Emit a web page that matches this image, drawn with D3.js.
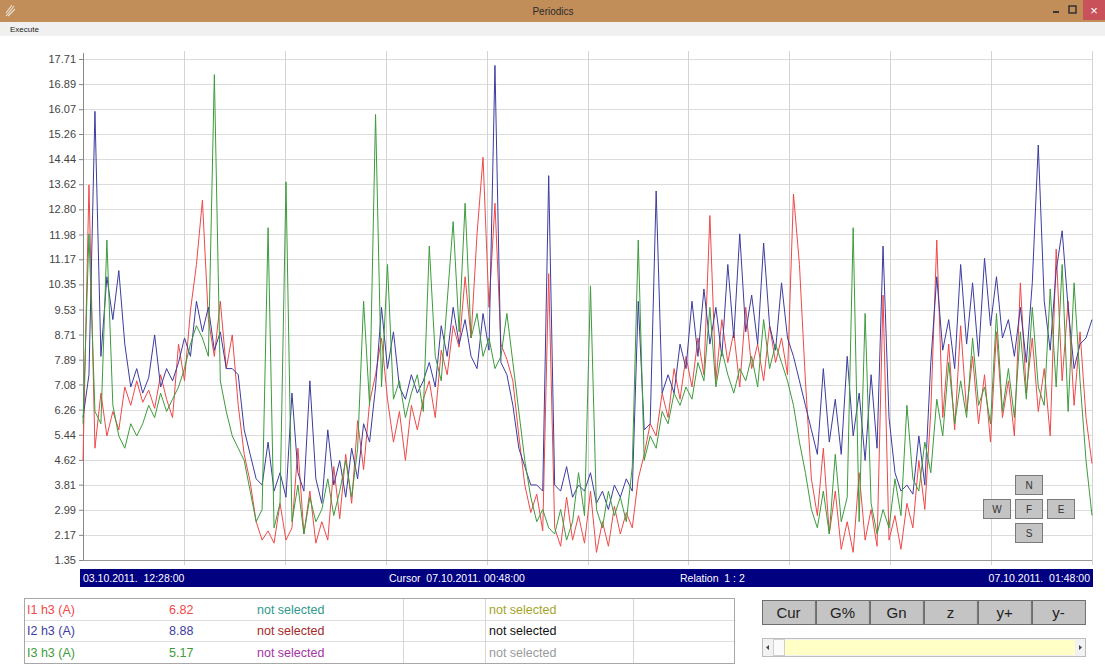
<!DOCTYPE html>
<html>
<head>
<meta charset="utf-8">
<script src="https://cdn.jsdelivr.net/npm/d3@7"></script>
<style>
body{margin:0;background:#fff;font-family:"Liberation Sans",Arial,sans-serif;}
svg text{font-family:"Liberation Sans",Arial,sans-serif;}
</style>
</head>
<body>
<svg id="graph1"></svg>
<script>
// y tick labels as shown on the left axis
var yTicks = [17.71,16.89,16.07,15.26,14.44,13.62,12.80,11.98,11.17,10.35,9.53,8.71,7.89,7.08,6.26,5.44,4.62,3.81,2.99,2.17,1.35];

// I1 h3 (A) - red
var i1 = [4.6,13.6,5.0,6.8,5.4,6.2,5.6,7.0,6.4,7.2,6.5,6.9,6.3,7.4,6.6,6.0,8.4,7.2,9.5,11.0,
13.1,9.2,8.0,9.8,7.6,8.7,6.4,4.8,3.9,2.6,2.0,2.3,1.9,3.2,2.0,2.4,5.0,2.2,3.6,1.9,
2.6,2.0,4.4,2.7,4.8,3.2,5.9,4.3,6.5,7.4,8.6,6.6,5.2,6.2,4.6,6.4,5.6,6.6,7.2,6.0,
8.2,7.4,9.0,8.3,10.6,8.6,12.0,14.5,9.6,13.0,8.4,7.9,7.2,5.4,3.8,2.9,3.5,2.3,10.7,2.4,
1.8,3.4,2.0,2.8,1.9,3.6,1.6,2.6,1.8,3.1,2.2,2.9,2.4,4.0,4.8,5.8,5.4,6.8,6.0,7.6,
6.6,8.0,7.0,8.6,7.4,12.6,7.2,9.2,7.8,8.8,7.0,9.6,7.6,8.4,7.2,9.0,7.8,8.6,7.4,13.3,
11.0,7.2,4.0,2.8,5.0,2.2,3.6,1.7,2.6,1.6,4.2,2.0,3.0,1.8,10.0,2.0,2.8,1.7,3.2,2.4,
4.6,3.0,6.2,11.8,6.0,8.4,5.6,9.0,6.2,8.0,5.8,7.4,5.2,8.8,6.0,7.2,5.4,10.4,6.8,8.6,
6.2,7.6,5.4,11.5,7.2,9.8,6.4,8.8,6.0,4.5];

// I2 h3 (A) - blue
var i2 = [6.0,7.4,16.0,8.0,10.6,9.2,10.8,8.4,7.0,7.6,6.8,7.3,8.7,7.0,7.6,7.2,7.8,8.6,8.0,9.8,
8.8,9.6,8.2,8.8,7.6,7.6,7.4,5.6,4.8,4.0,3.8,5.2,3.6,4.2,3.4,6.8,4.2,3.6,7.2,4.0,
3.2,5.6,3.8,4.6,3.4,5.0,4.0,5.8,5.2,7.0,9.6,7.6,8.8,7.0,6.6,7.4,6.8,7.2,7.8,7.0,
9.0,8.0,9.6,8.4,9.2,8.0,7.6,9.4,8.2,17.5,7.8,7.4,6.4,5.0,4.4,3.8,3.8,3.6,13.9,3.8,
3.6,4.4,3.4,3.8,3.6,4.2,3.2,3.6,3.0,3.8,3.4,4.0,3.6,9.8,5.6,5.8,13.4,6.8,7.4,6.8,
8.4,7.6,9.8,8.0,10.2,8.4,9.6,8.0,11.0,8.6,12.0,8.8,10.0,8.4,11.7,9.0,8.2,10.4,8.6,8.0,
7.2,6.4,5.6,4.8,7.6,5.2,6.6,4.8,8.0,5.4,6.8,4.6,7.4,5.0,11.6,6.0,4.2,3.6,3.8,3.5,
5.4,3.8,7.8,10.6,8.2,9.2,7.6,11.0,8.4,10.4,8.0,11.2,9.0,10.6,8.6,9.2,8.0,9.6,7.8,10.4,
14.9,9.8,8.2,10.8,12.1,9.6,7.6,8.4,8.6,9.2];

// I3 h3 (A) - green
var i3 = [5.8,12.0,6.2,5.8,11.8,6.4,5.4,5.0,5.8,5.4,5.8,6.4,6.0,6.8,6.2,6.6,7.0,7.6,8.4,9.0,
8.6,8.0,17.2,7.2,6.2,5.4,5.0,4.6,3.6,2.6,3.0,12.2,2.4,3.2,13.7,2.6,3.8,2.2,3.4,2.6,
3.0,4.0,2.8,3.6,4.6,3.4,5.0,9.8,6.4,15.9,7.0,11.0,6.6,7.2,6.0,6.8,7.4,6.2,11.6,8.0,
7.2,9.8,12.4,8.8,13.0,8.6,9.4,8.0,8.6,7.6,8.0,9.4,7.8,6.2,4.6,3.4,2.6,3.0,2.4,2.2,
3.0,2.0,2.6,4.2,2.8,10.3,3.0,2.4,3.6,2.8,3.4,2.6,4.4,11.8,4.6,5.4,5.0,6.2,5.8,6.8,
6.4,7.0,6.6,7.8,7.2,9.6,7.0,8.2,7.4,6.8,7.6,7.2,8.0,7.0,9.2,7.6,8.4,7.8,7.2,6.4,
5.2,4.2,3.0,2.4,3.6,2.2,4.8,2.6,3.4,12.2,2.6,9.4,3.2,2.2,3.0,2.4,4.0,2.8,6.4,4.0,
3.6,5.2,4.2,6.6,5.4,7.8,5.8,7.2,6.0,8.6,6.4,7.0,5.8,9.4,6.2,7.6,6.0,8.8,6.6,9.6,
7.0,6.4,10.2,7.0,11.0,6.2,10.4,7.2,4.6,2.8];

var seriesNames = ["I1 h3 (A)","I2 h3 (A)","I3 h3 (A)"];
var seriesColors = ["#f04848","#3c3ca0","#3c9c3c"];
var cursorValues = ["6.82","8.88","5.17"];
var col3Text = ["not selected","not selected","not selected"];
var col3Colors = ["#2f9a8c","#a62828","#a434a4"];
var col5Text = ["not selected","not selected","not selected"];
var col5Colors = ["#a4a428","#111111","#9a9a9a"];
var buttonLabels = ["Cur","G%","Gn","z","y+","y-"];
var barLabels = {start:"03.10.2011.  12:28:00",cursor:"Cursor  07.10.2011. 00:48:00",relation:"Relation  1 : 2",end:"07.10.2011.  01:48:00"};

var drawWindow = function(svg)
{
    // title bar
    svg.append("rect").attr("x",0).attr("y",0).attr("width",1105).attr("height",22).attr("fill","#c18e5a")
    svg.append("rect").attr("x",1083).attr("y",0).attr("width",22).attr("height",20).attr("fill","#c9525a")
    svg.append("text").text("Periodics").attr("x",553).attr("y",15)
        .attr("text-anchor","middle").attr("font-size",10).attr("fill","#2a2a2a")
    svg.append("text").text("\u00d7").attr("x",1094).attr("y",15)
        .attr("text-anchor","middle").attr("font-size",13).attr("fill","#fff")
    svg.append("rect").attr("x",1053).attr("y",11).attr("width",6).attr("height",2).attr("fill","#333")
    svg.append("rect").attr("x",1069).attr("y",6).attr("width",7).attr("height",7)
        .attr("fill","none").attr("stroke","#333").attr("stroke-width",1.5)
    // tiny icon in the corner
    svg.append("path").attr("d","M6,16 L14,6 M8,16 L15,9 M6,13 L12,5")
        .attr("stroke","#e8e0d0").attr("stroke-width",1.2).attr("fill","none")

    // menu bar
    svg.append("rect").attr("x",0).attr("y",22).attr("width",1105).attr("height",14).attr("fill","#f0f0f0")
    svg.append("text").text("Execute").attr("x",10).attr("y",32).attr("font-size",8).attr("fill","#222")
}

var firstgraph = function(target)
{
    var screen = {width:1105, height:664};
    var margins = {top:59, left:83};
    var graph = {width:1009, height:501};

    var svg = d3.select(target)
        .attr("width",screen.width)
        .attr("height",screen.height)

    drawWindow(svg)

    var xScale = d3.scaleLinear()
        .domain([0,i1.length-1])
        .range([0,graph.width])

    var yScale = d3.scaleLinear()
        .domain([1.35,17.71])
        .range([graph.height,0])

    var g = svg.append("g")
        .classed("graph",true)
        .attr("transform","translate("+margins.left+","+margins.top+")")

    // horizontal grid
    g.append("g").selectAll("line")
        .data(yTicks)
        .enter()
        .append("line")
        .attr("x1",0).attr("x2",graph.width)
        .attr("y1",function(d){return Math.round(yScale(d))+0.5})
        .attr("y2",function(d){return Math.round(yScale(d))+0.5})
        .attr("stroke","#dcdcdc")

    // vertical grid, ten divisions
    var vTicks = d3.range(1,11).map(function(k){return k*(i1.length-1)/10})
    g.append("g").selectAll("line")
        .data(vTicks)
        .enter()
        .append("line")
        .attr("x1",function(d){return Math.round(xScale(d))+0.5})
        .attr("x2",function(d){return Math.round(xScale(d))+0.5})
        .attr("y1",-8).attr("y2",graph.height+5)
        .attr("stroke","#d4d4d4")

    // left axis
    var yAxis = d3.axisLeft(yScale)
        .tickValues(yTicks)
        .tickFormat(d3.format(".2f"))
        .tickSize(4)
        .tickSizeOuter(0)
    var ya = g.append("g").call(yAxis)
    ya.select(".domain").attr("stroke","#888").attr("d","M0.5,-6V"+graph.height)
    ya.selectAll(".tick line").attr("stroke","#888")
    ya.selectAll(".tick text").attr("font-size",11).attr("fill","#444")
        .attr("font-family","Liberation Sans, Arial, sans-serif")

    // bottom axis line
    g.append("line").attr("x1",0).attr("x2",graph.width)
        .attr("y1",graph.height+0.5).attr("y2",graph.height+0.5).attr("stroke","#999")

    var lineGenerator = function(values)
    {
        return d3.line()
            .x(function(d,i){return xScale(i)})
            .y(function(d){return yScale(d)})(values)
    }

    var lines = g.append("g").classed("lines",true)
    lines.selectAll("path")
        .data([i1,i2,i3])
        .enter()
        .append("path")
        .attr("fill","none")
        .attr("stroke",function(d,i){return seriesColors[i]})
        .attr("stroke-width",1)
        .attr("d",function(d){return lineGenerator(d)})

    // navigation pad
    var pad = [{t:"N",x:1015,y:475},{t:"W",x:983,y:499},{t:"F",x:1015,y:499},{t:"E",x:1047,y:499},{t:"S",x:1015,y:523}]
    var pads = svg.append("g").selectAll("g")
        .data(pad)
        .enter()
        .append("g")
    pads.append("rect")
        .attr("x",function(d){return d.x+0.5}).attr("y",function(d){return d.y+0.5})
        .attr("width",27).attr("height",19)
        .attr("fill","#c4c4c4").attr("stroke","#7a7a7a")
    pads.append("text").text(function(d){return d.t})
        .attr("x",function(d){return d.x+14}).attr("y",function(d){return d.y+14})
        .attr("text-anchor","middle").attr("font-size",10).attr("fill","#333")

    // navy status bar
    svg.append("rect").attr("x",80).attr("y",569).attr("width",1013).attr("height",18).attr("fill","#000080")
    var bar = svg.append("g").attr("font-size",10.5).attr("fill","#fff")
    bar.append("text").text(barLabels.start).attr("x",83).attr("y",582).attr("xml:space","preserve")
    bar.append("text").text(barLabels.cursor).attr("x",389).attr("y",582).attr("xml:space","preserve")
    bar.append("text").text(barLabels.relation).attr("x",680).attr("y",582).attr("xml:space","preserve")
    bar.append("text").text(barLabels.end).attr("x",1090).attr("y",582)
        .attr("text-anchor","end").attr("xml:space","preserve")

    drawTable(svg)
    drawButtons(svg)
}

var drawTable = function(svg)
{
    var t = svg.append("g").classed("table",true)
    var top = 598, rowH = 21.7
    t.append("rect").attr("x",24.5).attr("y",top+0.5).attr("width",710).attr("height",65)
        .attr("fill","#fff").attr("stroke","#a8a8a8")
    ;[1,2].forEach(function(r)
    {
        t.append("line").attr("x1",25).attr("x2",734)
            .attr("y1",Math.round(top+r*rowH)+0.5).attr("y2",Math.round(top+r*rowH)+0.5)
            .attr("stroke","#dedede")
    })
    ;[403,485,633].forEach(function(x)
    {
        t.append("line").attr("x1",x+0.5).attr("x2",x+0.5)
            .attr("y1",top+1).attr("y2",top+65).attr("stroke","#d6d6d6")
    })
    seriesNames.forEach(function(name,r)
    {
        var y = top + r*rowH + 15.5
        t.append("text").text(name).attr("x",27).attr("y",y).attr("font-size",12.5).attr("fill",seriesColors[r])
        t.append("text").text(cursorValues[r]).attr("x",169).attr("y",y).attr("font-size",12.5).attr("fill",seriesColors[r])
        t.append("text").text(col3Text[r]).attr("x",257).attr("y",y).attr("font-size",12.5).attr("fill",col3Colors[r])
        t.append("text").text(col5Text[r]).attr("x",489).attr("y",y).attr("font-size",12.5).attr("fill",col5Colors[r])
    })
}

var drawButtons = function(svg)
{
    var bx = d3.scaleBand().domain(buttonLabels).range([762,1085]).paddingInner(0.02)
    var b = svg.append("g").selectAll("g")
        .data(buttonLabels)
        .enter()
        .append("g")
    b.append("rect")
        .attr("x",function(d){return Math.round(bx(d))+0.5}).attr("y",600.5)
        .attr("width",bx.bandwidth()).attr("height",24)
        .attr("fill","#c4c4c4").attr("stroke","#6e6e6e")
    b.append("text").text(function(d){return d})
        .attr("x",function(d){return bx(d)+bx.bandwidth()/2}).attr("y",618)
        .attr("text-anchor","middle").attr("font-size",15).attr("fill","#222")

    // scroll bar
    var s = svg.append("g")
    s.append("rect").attr("x",762.5).attr("y",638.5).attr("width",323).attr("height",18)
        .attr("fill","#f2f2f2").attr("stroke","#bdbdbd")
    s.append("rect").attr("x",785).attr("y",640).attr("width",290).attr("height",15).attr("fill","#ffffc6")
    s.append("rect").attr("x",773.5).attr("y",639.5).attr("width",11).attr("height",16)
        .attr("fill","#fbfbfb").attr("stroke","#cfcfcf")
    s.append("path").attr("d","M766,647.5 L769,645 L769,650 Z").attr("fill","#444")
    s.append("path").attr("d","M1082,647.5 L1079,645 L1079,650 Z").attr("fill","#444")
}

firstgraph("#graph1")
</script>
</body>
</html>
